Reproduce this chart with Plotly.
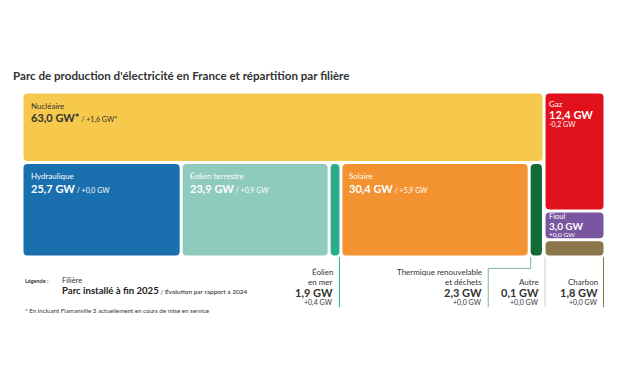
import plotly.graph_objects as go

# ---- data ----
names_top = ["Nucléaire"]
values_top = [63.0]
deltas_top = ["+1,6 GW*"]

names_bottom = ["Hydraulique", "Éolien terrestre", "Éolien en mer", "Solaire",
                "Thermique renouvelable et déchets", "Autre"]
values_bottom = [25.7, 23.9, 1.9, 30.4, 2.3, 0.1]
deltas_bottom = ["+0,0 GW", "+0,9 GW", "+0,4 GW", "+5,9 GW", "+0,0 GW", "+0,0 GW"]

names_right = ["Gaz", "Fioul", "Charbon"]
values_right = [12.4, 3.0, 1.8]
deltas_right = ["-0,2 GW", "+0,0 GW", "+0,0 GW"]

colors = {
    "Nucléaire": "#F6C94D", "Hydraulique": "#1A6FAF", "Éolien terrestre": "#8ECBBC",
    "Éolien en mer": "#29AD8D", "Solaire": "#F29231", "Thermique renouvelable et déchets": "#126B35",
    "Autre": "#BDBDBD", "Gaz": "#E1111B", "Fioul": "#7A55A0", "Charbon": "#8C774A",
}

def fmt(v):
    return f"{v:.1f}".replace(".", ",") + " GW"

# ---- page geometry (the page body adds an 8px margin) ----
OFF = 8
W_PX, H_PX = 627 - 2 * OFF, 376 - 2 * OFF
PLOT_L, PLOT_R, PLOT_T, PLOT_B = 21.5, 605.5, 91.5, 257.5   # target page pixels
ML, MT = PLOT_L - OFF, PLOT_T - OFF
PW, PH = PLOT_R - PLOT_L, PLOT_B - PLOT_T
MR, MB = W_PX - ML - PW, H_PX - MT - PH

left_total = sum(values_top) + sum(values_bottom)
right_total = sum(values_right)
W = left_total + right_total
kx = W / PW          # data units per px (x)
ky = 1.0 / PH        # data units per px (y)
GAP = 1.5
R = 4.0

rects = []  # (name, x0, x1, y0, y1)
y_split = 1 - values_top[0] / left_total
rects.append((names_top[0], 0, left_total, y_split, 1))
scale_b = left_total / sum(values_bottom)
cx = 0
for n, v in zip(names_bottom, values_bottom):
    rects.append((n, cx, cx + v * scale_b, 0, y_split))
    cx += v * scale_b
cy = 1
for n, v in zip(names_right, values_right):
    h = v / right_total
    rects.append((n, left_total, W, cy - h, cy))
    cy -= h

def rounded(x0, x1, y0, y1):
    x0 += GAP * kx; x1 -= GAP * kx; y0 += GAP * ky; y1 -= GAP * ky
    rx = min(R * kx, (x1 - x0) / 2); ry = min(R * ky, (y1 - y0) / 2)
    return (f"M{x0+rx},{y0} L{x1-rx},{y0} Q{x1},{y0} {x1},{y0+ry} "
            f"L{x1},{y1-ry} Q{x1},{y1} {x1-rx},{y1} L{x0+rx},{y1} "
            f"Q{x0},{y1} {x0},{y1-ry} L{x0},{y0+ry} Q{x0},{y0} {x0+rx},{y0} Z")

fig = go.Figure()
shapes = []
for n, x0, x1, y0, y1 in rects:
    if (x1 - x0) / kx < 2 * GAP + 0.5:
        continue
    shapes.append(dict(type="path", xref="x", yref="y", path=rounded(x0, x1, y0, y1),
                       fillcolor=colors[n], line=dict(width=0), layer="below"))

fig.add_trace(go.Scatter(
    x=[(r[1] + r[2]) / 2 for r in rects], y=[(r[3] + r[4]) / 2 for r in rects],
    mode="markers", marker=dict(opacity=0, size=1), hoverinfo="text",
    text=[f"{r[0]}: {fmt(v)}" for r, v in zip(rects, values_top + values_bottom + values_right)],
    showlegend=False))

FONT = "Lato, 'Open Sans', sans-serif"
ann = []
rd = {r[0]: r for r in rects}
BASE = dict(showarrow=False, borderpad=0, borderwidth=0)

def inside(name, value, delta, dark=False, compact=False):
    n, x0, x1, y0, y1 = rd[name]
    col = "#333333" if dark else "#FFFFFF"
    if compact:
        rows = [(name, 8, 10), (f"<b>{fmt(value)}</b>", 11, 21), (delta, 7, 31)]
        if name == "Fioul":
            rows = [(name, 7.5, 4), (f"<b>{fmt(value)}</b>", 10, 13.5), (delta, 6.5, 22.5)]
        for t, s, dy in rows:
            ann.append(dict(BASE, x=x0, y=y1, xref="x", yref="y", text=t,
                            xanchor="left", yanchor="middle", xshift=GAP + 3, yshift=-(GAP + dy),
                            font=dict(size=s, color=col, family=FONT)))
    else:
        star = "*" if name == "Nucléaire" else ""
        ann.append(dict(BASE, x=x0, y=y1, xref="x", yref="y", text=name,
                        xanchor="left", yanchor="middle", xshift=GAP + 7, yshift=-(GAP + 12),
                        font=dict(size=8, color=col, family=FONT)))
        ann.append(dict(BASE, x=x0, y=y1, xref="x", yref="y",
                        text=f"<b>{fmt(value)}{star}</b><span style='font-size:7px'> / {delta}</span>",
                        xanchor="left", yanchor="middle",
                        xshift=GAP + 7, yshift=-(GAP + 24),
                        font=dict(size=11, color=col, family=FONT)))

inside("Nucléaire", values_top[0], deltas_top[0], dark=True)
for n in ["Hydraulique", "Éolien terrestre", "Solaire"]:
    i = names_bottom.index(n)
    inside(n, values_bottom[i], deltas_bottom[i])
for n in ["Gaz", "Fioul"]:
    i = names_right.index(n)
    inside(n, values_right[i], deltas_right[i], compact=True)

# ---- callout labels below the chart ----
def py(px):  # target page pixel y -> paper y
    return (PLOT_B - px) / PH

def callout(name, label_lines, value, delta, xdata, line_color, elbow=None):
    bottom = 308
    if elbow is None:
        shapes.append(dict(type="line", xref="x", yref="paper", x0=xdata, x1=xdata,
                           y0=py(PLOT_B), y1=py(bottom), line=dict(color=line_color, width=1)))
        xl = xdata
    else:
        xl = xdata - elbow * kx
        shapes.append(dict(type="path", xref="paper", yref="paper",
                           path=f"M{xdata/W},{py(PLOT_B)} L{xdata/W},{py(269)} L{xl/W},{py(269)} L{xl/W},{py(bottom)}",
                           line=dict(color=line_color, width=1)))
    rows = []
    ys = [283] if len(label_lines) == 1 else [273, 283]
    for t, yy in zip(label_lines, ys):
        rows.append((t, 8, yy))
    rows.append((f"<b>{fmt(value)}</b>", 11, 293))
    rows.append((delta, 7, 303))
    for t, s, yy in rows:
        ann.append(dict(BASE, x=xl, y=py(yy), xref="x", yref="paper", text=t,
                        xanchor="right", yanchor="middle", xshift=-6,
                        font=dict(size=s, color="#333333", family=FONT)))

n, x0, x1, y0, y1 = rd["Éolien en mer"]
callout(n, ["Éolien", "en mer"], values_bottom[2], deltas_bottom[2], x1 - GAP * kx, "#29AD8D")
n, x0, x1, y0, y1 = rd["Thermique renouvelable et déchets"]
callout(n, ["Thermique renouvelable", "et déchets"], values_bottom[4], deltas_bottom[4],
        x0 + GAP * kx, "#7DB893", elbow=42.5)
n, x0, x1, y0, y1 = rd["Autre"]
callout(n, ["Autre"], values_bottom[5], deltas_bottom[5], x1 + 1 * kx, "#CFCFCF")
n, x0, x1, y0, y1 = rd["Charbon"]
callout(n, ["Charbon"], values_right[2], deltas_right[2], x1 - GAP * kx, "#8C774A")

# ---- title, legend, footnote ----
def pap(px_x, px_y):
    return (px_x - PLOT_L) / PW, py(px_y)

def free_text(px_x, px_y, text, size, color="#333333"):
    x, y = pap(px_x, px_y)
    ann.append(dict(BASE, x=x, y=y, xref="paper", yref="paper", xanchor="left",
                    yanchor="middle", text=text, font=dict(size=size, color=color, family=FONT)))

free_text(12, 75, "<b>Parc de production d'électricité en France et répartition par filière</b>", 11.6)
free_text(25, 282, "<b>Légende :</b>", 5.5)
free_text(62, 281, "Filière", 7.5)
free_text(62, 291, "<b>Parc installé à fin 2025</b><span style='font-size:6.5px'> / Évolution par rapport à 2024</span>",
          9.6, "#222222")
free_text(25, 311, "* En incluant Flamanville 3 actuellement en cours de mise en service", 6.2)

fig.update_layout(
    width=W_PX, height=H_PX, margin=dict(l=ML, r=MR, t=MT, b=MB, pad=0),
    paper_bgcolor="white", plot_bgcolor="white",
    xaxis=dict(range=[0, W], visible=False, fixedrange=True),
    yaxis=dict(range=[0, 1], visible=False, fixedrange=True),
    shapes=shapes, annotations=ann, showlegend=False, font=dict(family=FONT),
)
fig.write_html("out.html")
